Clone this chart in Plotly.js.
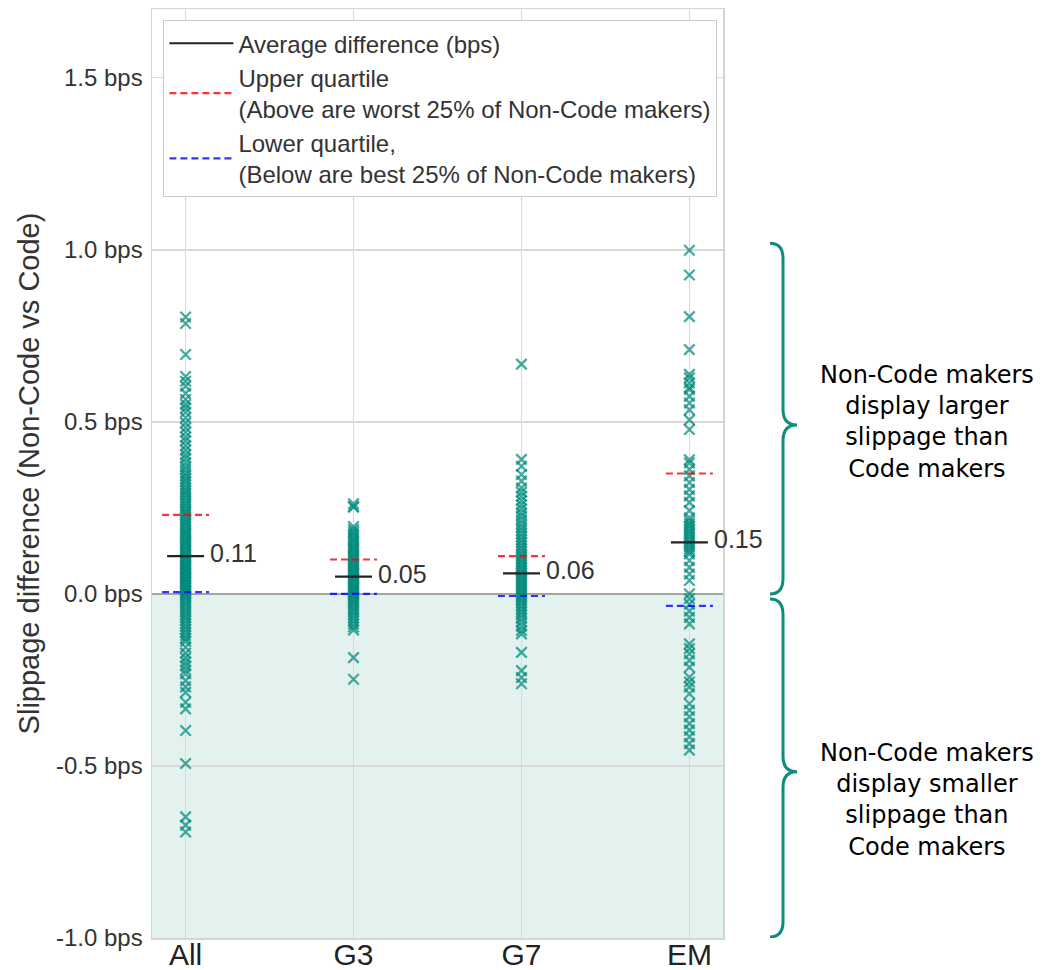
<!DOCTYPE html>
<html>
<head>
<meta charset="utf-8">
<script src="https://cdn.plot.ly/plotly-3.0.1.min.js"></script>
<style>html,body{margin:0;padding:0;background:#fff;}#chart{width:1049px;height:970px;}</style>
</head>
<body>
<div id="chart"></div>
<script>
// ---- data ----
const categories = ['All', 'G3', 'G7', 'EM'];

const allValues = [0.805, 0.786, 0.696, 0.632, 0.618, 0.604, 0.583, 0.565, 0.551, 0.540, 0.528, 0.512, 0.497,
  0.483, 0.470, 0.456, 0.445, 0.431, 0.418, 0.405, 0.394, 0.382, 0.371, 0.362, 0.351, 0.343, 0.334,
  0.327, 0.318, 0.309, 0.301, 0.294, 0.287, 0.279, 0.271, 0.263, 0.256, 0.248, 0.241, 0.236, 0.229,
  0.222, 0.215, 0.209, 0.203, 0.197, 0.190, 0.184, 0.178, 0.172, 0.166, 0.160, 0.154, 0.149, 0.143,
  0.138, 0.132, 0.127, 0.121, 0.116, 0.111, 0.106, 0.101, 0.096, 0.091, 0.086, 0.081, 0.076, 0.072,
  0.067, 0.062, 0.058, 0.053, 0.048, 0.044, 0.039, 0.035, 0.031, 0.026, 0.021, 0.017, 0.012, 0.008,
  0.004, 0.000, -0.005, -0.011, -0.017, -0.024, -0.031, -0.038, -0.046, -0.053, -0.061, -0.069,
  -0.077, -0.086, -0.094, -0.103, -0.112, -0.121, -0.130, -0.138, -0.155, -0.172, -0.186, -0.198,
  -0.209, -0.221, -0.232, -0.252, -0.270, -0.286, -0.315, -0.334, -0.397, -0.493, -0.648, -0.672, -0.692];

const g3Values = [0.262, 0.255, 0.252, 0.196, 0.188, 0.181, 0.175, 0.168, 0.161, 0.155, 0.149, 0.142,
  0.136, 0.131, 0.125, 0.119, 0.113, 0.108, 0.102, 0.097, 0.091, 0.086, 0.081, 0.076, 0.071, 0.066,
  0.061, 0.057, 0.052, 0.047, 0.043, 0.038, 0.034, 0.029, 0.024, 0.019, 0.015, 0.010, 0.005, 0.001,
  -0.004, -0.009, -0.015, -0.021, -0.027, -0.033, -0.040, -0.047, -0.054, -0.062, -0.070, -0.078,
  -0.087, -0.096, -0.105, -0.185, -0.248];

const g7Values = [0.668, 0.391, 0.371, 0.347, 0.328, 0.308, 0.296, 0.284, 0.271, 0.259, 0.248, 0.236,
  0.226, 0.215, 0.204, 0.194, 0.185, 0.175, 0.166, 0.157, 0.149, 0.140, 0.132, 0.124, 0.116, 0.109,
  0.101, 0.094, 0.087, 0.080, 0.074, 0.067, 0.061, 0.054, 0.048, 0.042, 0.036, 0.030, 0.024, 0.018,
  0.012, 0.006, 0.000, -0.006, -0.013, -0.020, -0.027, -0.035, -0.043, -0.052, -0.061, -0.071,
  -0.082, -0.094, -0.106, -0.116, -0.170, -0.223, -0.243, -0.261];

const emValues = [0.999, 0.927, 0.806, 0.710, 0.638, 0.628, 0.613, 0.600, 0.594, 0.574, 0.555, 0.535,
  0.506, 0.478, 0.390, 0.381, 0.362, 0.343, 0.324, 0.304, 0.285, 0.266, 0.242, 0.221, 0.212, 0.204,
  0.197, 0.189, 0.181, 0.174, 0.166, 0.159, 0.151, 0.144, 0.137, 0.130, 0.123, 0.116, 0.097, 0.077,
  0.058, 0.039, 0.000, -0.014, -0.030, -0.050, -0.068, -0.087, -0.145, -0.159, -0.174, -0.193,
  -0.213, -0.242, -0.256, -0.270, -0.290, -0.319, -0.338, -0.357, -0.377, -0.396, -0.415, -0.435, -0.454];

const meanDiff = [0.11, 0.05, 0.06, 0.15];
const upperQuartile = [0.23, 0.10, 0.11, 0.35];
const lowerQuartile = [0.005, 0.0, -0.006, -0.035];
const meanLabels = ['0.11', '0.05', '0.06', '0.15'];

const yTickVals = [-1, -0.5, 0, 0.5, 1, 1.5];
const yTickText = ['-1.0 bps', '-0.5 bps', '0.0 bps', '0.5 bps', '1.0 bps', '1.5 bps'];

const legendNames = [
  'Average difference (bps)',
  'Upper quartile<br>(Above are worst 25% of Non-Code makers)',
  'Lower quartile,<br>(Below are best 25% of Non-Code makers)'
];
const yTitle = 'Slippage difference (Non-Code vs Code)';
const braceTexts = [
  'Non-Code makers<br>display larger<br>slippage than<br>Code makers',
  'Non-Code makers<br>display smaller<br>slippage than<br>Code makers'
];

// ---- build ----
const seriesValues = [allValues, g3Values, g7Values, emValues];
const teal = 'rgba(0,137,123,0.72)';
const traces = [];

seriesValues.forEach((vals, i) => {
  traces.push({
    type: 'scatter', mode: 'markers',
    x: vals.map(() => i), y: vals,
    marker: { symbol: 'x-thin', size: 10.5, line: { width: 2.3, color: teal }, color: teal },
    showlegend: false, hoverinfo: 'y'
  });
});

function segments(values, half) {
  const x = [], y = [];
  values.forEach((v, i) => { x.push(i - half, i + half, null); y.push(v, v, null); });
  return { x, y };
}

const meanSeg = segments(meanDiff, 0.11);
const upSeg = segments(upperQuartile, 0.14);
const lowSeg = segments(lowerQuartile, 0.14);

traces.push({ type: 'scatter', mode: 'lines', x: meanSeg.x, y: meanSeg.y, name: legendNames[0],
  line: { color: '#222222', width: 2.2 } });
traces.push({ type: 'scatter', mode: 'lines', x: upSeg.x, y: upSeg.y, name: legendNames[1],
  line: { color: 'rgba(255,0,0,0.8)', width: 2.2, dash: '7px,4px' } });
traces.push({ type: 'scatter', mode: 'lines', x: lowSeg.x, y: lowSeg.y, name: legendNames[2],
  line: { color: 'rgba(0,0,255,0.8)', width: 2.2, dash: '7px,4px' } });

const annotations = meanDiff.map((m, i) => ({
  xref: 'x', yref: 'y', x: i + 0.135, y: m, yshift: 3,
  text: meanLabels[i], showarrow: false, xanchor: 'left', yanchor: 'middle',
  font: { family: 'Liberation Sans, Arial, sans-serif', size: 25, color: '#333333' }
}));
annotations.push({
  xref: 'paper', yref: 'y', x: 1.357, y: 0.5, text: braceTexts[0], showarrow: false,
  xanchor: 'center', yanchor: 'middle', align: 'center',
  font: { family: 'DejaVu Sans, Verdana, sans-serif', size: 24, color: '#000000' }
});
annotations.push({
  xref: 'paper', yref: 'y', x: 1.357, y: -0.6, text: braceTexts[1], showarrow: false,
  xanchor: 'center', yanchor: 'middle', align: 'center',
  font: { family: 'DejaVu Sans, Verdana, sans-serif', size: 24, color: '#000000' }
});

function bracePath(yTop, yMid, yBot) {
  const X0 = 1.0823, X1 = 1.1051, X2 = 1.1296, d = 0.045;
  return `M ${X0},${yTop} Q ${X1},${yTop} ${X1},${yTop - d} L ${X1},${yMid + d} ` +
         `Q ${X1},${yMid} ${X2},${yMid} Q ${X1},${yMid} ${X1},${yMid - d} ` +
         `L ${X1},${yBot + d} Q ${X1},${yBot} ${X0},${yBot}`;
}

const shapes = [
  { type: 'rect', xref: 'paper', yref: 'y', x0: 0, x1: 1, y0: -1, y1: 0,
    fillcolor: '#e3f2ef', line: { width: 0 }, layer: 'below' },
  { type: 'path', xref: 'paper', yref: 'y', path: bracePath(1.019, 0.491, 0.0),
    line: { color: '#0e8c7f', width: 3 } },
  { type: 'path', xref: 'paper', yref: 'y', path: bracePath(-0.015, -0.517, -0.997),
    line: { color: '#0e8c7f', width: 3 } }
];

const layout = {
  width: 1049, height: 970,
  margin: { l: 152, r: 326, t: 9, b: 32 },
  paper_bgcolor: '#ffffff', plot_bgcolor: '#ffffff',
  font: { family: 'Liberation Sans, Arial, sans-serif', color: '#333333' },
  showlegend: true,
  legend: {
    x: 0.02, y: 0.988, xanchor: 'left', yanchor: 'top',
    bgcolor: '#ffffff', bordercolor: '#cccccc', borderwidth: 1,
    font: { family: 'Liberation Sans, Arial, sans-serif', size: 24, color: '#333333' },
    itemwidth: 64, tracegroupgap: 0
  },
  xaxis: {
    range: [-0.2, 3.2], tickvals: [0, 1, 2, 3], ticktext: categories,
    showgrid: true, gridcolor: '#d9d9d9', gridwidth: 1.3,
    zeroline: false, showline: true, mirror: true, linecolor: '#d4d4d4', linewidth: 1.5,
    ticks: '', ticklabelstandoff: -11, tickfont: { size: 30, color: '#222222' }, fixedrange: true
  },
  yaxis: {
    range: [-1, 1.7], tickvals: yTickVals, ticktext: yTickText,
    showgrid: true, gridcolor: '#d9d9d9', gridwidth: 1.3,
    zeroline: true, zerolinecolor: '#a6a6a6', zerolinewidth: 2,
    showline: true, mirror: true, linecolor: '#d4d4d4', linewidth: 1.5,
    ticks: '', ticklabelstandoff: 3,
    tickfont: { size: 24, color: '#333333' },
    title: { text: yTitle, font: { size: 29, color: '#333333' }, standoff: 8 },
    automargin: false, fixedrange: true
  },
  shapes: shapes,
  annotations: annotations
};

Plotly.newPlot('chart', traces, layout, { displayModeBar: false, staticPlot: true });
</script>
</body>
</html>
